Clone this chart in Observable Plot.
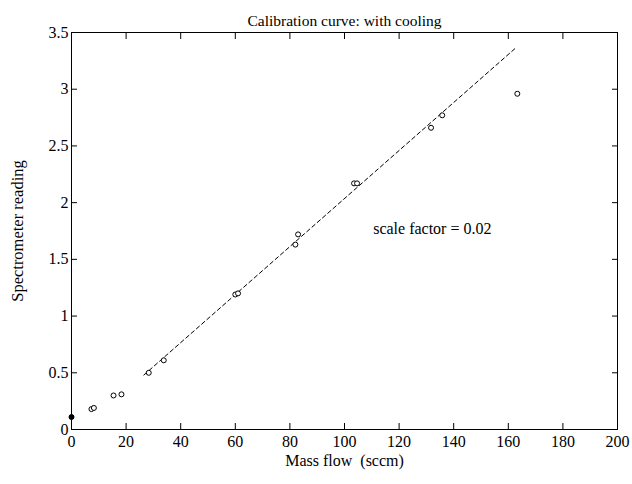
<!DOCTYPE html>
<html>
<head>
<meta charset="utf-8">
<script src="https://cdn.jsdelivr.net/npm/d3@7"></script>
<script src="https://cdn.jsdelivr.net/npm/@observablehq/plot@0.6"></script>
<style>
  html, body { margin: 0; padding: 0; background: #fff; }
  svg { font-family: "Liberation Serif", "DejaVu Serif", serif; }
</style>
</head>
<body>
<div id="chart"></div>
<script>
// Measured data points
const massFlow = [0, 7.3, 8.2, 15.4, 18.3, 28.3, 33.8, 60.0, 61.0, 82.0, 83.0, 103.5, 104.6, 131.7, 135.8, 163.3];
const reading  = [0.11, 0.18, 0.19, 0.30, 0.31, 0.50, 0.61, 1.19, 1.20, 1.63, 1.72, 2.17, 2.17, 2.66, 2.77, 2.96];
const filled   = [true, false, false, false, false, false, false, false, false, false, false, false, false, false, false, false];

// Fitted line endpoints
const fitX = [26.5, 163];
const fitY = [0.48, 3.37];

// Tick values
const xTicks = [0, 20, 40, 60, 80, 100, 120, 140, 160, 180, 200];
const yTicks = [0, 0.5, 1, 1.5, 2, 2.5, 3, 3.5];

// Texts
const title = "Calibration curve: with cooling";
const xLabel = "Mass flow  (sccm)";
const yLabel = "Spectrometer reading";
const note = {x: 110.5, y: 1.77, text: "scale factor = 0.02"};

const points = massFlow.map((x, i) => ({x, y: reading[i], filled: filled[i]}));
const fit = fitX.map((x, i) => ({x, y: fitY[i]}));

const plot = Plot.plot({
  width: 632,
  height: 484,
  marginLeft: 71,
  marginRight: 15,
  marginTop: 32,
  marginBottom: 55,
  style: {fontFamily: '"Liberation Serif", serif', fontSize: "16px", color: "#000", background: "#fff"},
  x: {domain: [0, 200]},
  y: {domain: [0, 3.5]},
  marks: [
    Plot.frame({stroke: "#000", strokeWidth: 1}),
    Plot.axisX(xTicks, {anchor: "bottom", tickSize: -6, tickPadding: 12, fontSize: 16, label: null}),
    Plot.axisX(xTicks, {anchor: "top", tickSize: -6, tickFormat: () => "", label: null}),
    Plot.axisY(yTicks, {anchor: "left", tickSize: -6, tickPadding: 9, fontSize: 16, label: null, tickFormat: d => String(d)}),
    Plot.axisY(yTicks, {anchor: "right", tickSize: -6, tickFormat: () => "", label: null}),
    Plot.line(fit, {x: "x", y: "y", stroke: "#000", strokeWidth: 1, strokeDasharray: "4,3"}),
    Plot.dot(points, {x: "x", y: "y", r: 2.5, stroke: "#000", strokeWidth: 1, fill: d => d.filled ? "#000" : "#fff"}),
    Plot.text([note], {x: "x", y: "y", text: "text", textAnchor: "start", fontSize: 16}),
    Plot.text([title], {frameAnchor: "top", dy: -18, fontSize: 15.5, text: d => d}),
    Plot.text([xLabel], {frameAnchor: "bottom", dy: 36, fontSize: 16, text: d => d}),
    Plot.text([yLabel], {frameAnchor: "left", textAnchor: "middle", dx: -54, rotate: -90, fontSize: 16.5, text: d => d})
  ]
});
document.getElementById("chart").appendChild(plot);
</script>
</body>
</html>
